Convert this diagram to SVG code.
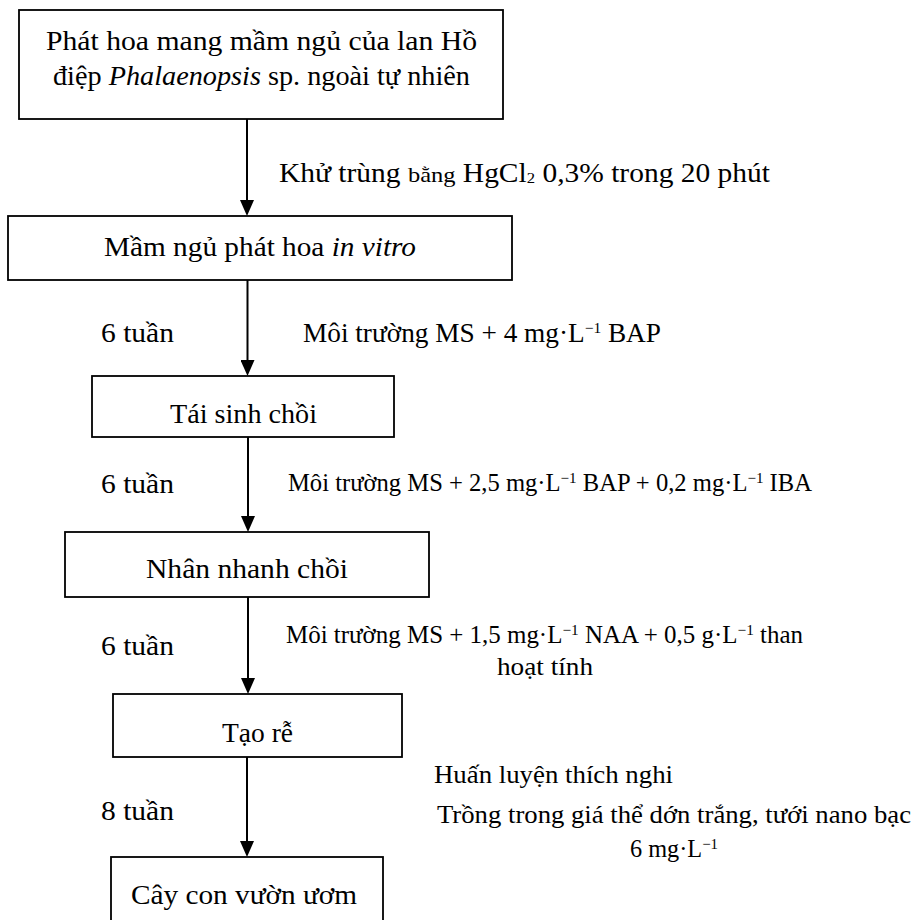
<svg xmlns="http://www.w3.org/2000/svg" width="916" height="920" viewBox="0 0 916 920">
<defs>
<style>
.box{fill:#fff;stroke:#000;stroke-width:1.8}
.t{font-family:"Liberation Serif","Times New Roman",serif;font-size:26.5px;fill:#000}
.s{font-size:24.5px}
.m{font-size:25.5px}
.i{font-style:italic}
.sup{font-size:15px}
.conn line{stroke:#000;stroke-width:2}
</style>
<marker id="ah" markerUnits="userSpaceOnUse" markerWidth="16" markerHeight="14" refX="2" refY="7" orient="auto">
<path d="M0,0 L16,7 L0,14 z" fill="#000"/>
</marker>
</defs>
<rect width="916" height="920" fill="#fff"/>

<g id="connectors" class="conn">
<line x1="247" y1="119" x2="247" y2="202" marker-end="url(#ah)"/>
<line x1="247.5" y1="280" x2="247.5" y2="362" marker-end="url(#ah)"/>
<line x1="248" y1="437" x2="248" y2="518" marker-end="url(#ah)"/>
<line x1="248" y1="597" x2="248" y2="680" marker-end="url(#ah)"/>
<line x1="247" y1="757" x2="247" y2="843" marker-end="url(#ah)"/>
</g>

<g id="node1">
<rect class="box" x="19" y="10" width="484" height="109"/>
<text class="t" x="46" y="50" textLength="431" lengthAdjust="spacingAndGlyphs">Phát hoa mang mầm ngủ của lan Hồ</text>
<text class="t" x="53" y="85" textLength="417" lengthAdjust="spacingAndGlyphs">điệp <tspan class="i">Phalaenopsis</tspan> sp. ngoài tự nhiên</text>
</g>

<g id="node2">
<rect class="box" x="8" y="216" width="504" height="64"/>
<text class="t" x="104" y="256" textLength="312" lengthAdjust="spacingAndGlyphs">Mầm ngủ phát hoa <tspan class="i">in vitro</tspan></text>
</g>

<g id="node3">
<rect class="box" x="92" y="376" width="302" height="61"/>
<text class="t" x="170" y="423" textLength="147" lengthAdjust="spacingAndGlyphs">Tái sinh chồi</text>
</g>

<g id="node4">
<rect class="box" x="65" y="532" width="364" height="65"/>
<text class="t" x="146" y="578" textLength="202" lengthAdjust="spacingAndGlyphs">Nhân nhanh chồi</text>
</g>

<g id="node5">
<rect class="box" x="113" y="694" width="289" height="63"/>
<text class="t" x="222" y="742" textLength="71" lengthAdjust="spacingAndGlyphs">Tạo rễ</text>
</g>

<g id="node6">
<rect class="box" x="111" y="857" width="272" height="90"/>
<text class="t" x="131" y="904" textLength="226" lengthAdjust="spacingAndGlyphs">Cây con vườn ươm</text>
</g>

<g id="labels">
<text class="t" x="279" y="182" textLength="491" lengthAdjust="spacingAndGlyphs">Khử trùng <tspan font-size="22">bằng</tspan> HgCl<tspan class="sup" dy="1">2</tspan><tspan dy="-1"> 0,3% trong 20 phút</tspan></text>

<text class="t" x="101" y="342" textLength="73" lengthAdjust="spacingAndGlyphs">6 tuần</text>
<text class="t" x="303" y="342" textLength="358" lengthAdjust="spacingAndGlyphs">Môi trường MS + 4 mg·L<tspan class="sup" dy="-9">−1</tspan><tspan dy="9"> BAP</tspan></text>

<text class="t" x="101" y="493" textLength="73" lengthAdjust="spacingAndGlyphs">6 tuần</text>
<text class="t s" x="288" y="491" textLength="524" lengthAdjust="spacingAndGlyphs">Môi trường MS + 2,5 mg·L<tspan class="sup" dy="-8">−1</tspan><tspan dy="8"> BAP + 0,2 mg·L</tspan><tspan class="sup" dy="-8">−1</tspan><tspan dy="8"> IBA</tspan></text>

<text class="t" x="101" y="655" textLength="73" lengthAdjust="spacingAndGlyphs">6 tuần</text>
<text class="t s" x="286" y="643" textLength="517" lengthAdjust="spacingAndGlyphs">Môi trường MS + 1,5 mg·L<tspan class="sup" dy="-8">−1</tspan><tspan dy="8"> NAA + 0,5 g·L</tspan><tspan class="sup" dy="-8">−1</tspan><tspan dy="8"> than</tspan></text>
<text class="t s" x="497" y="675" textLength="96" lengthAdjust="spacingAndGlyphs">hoạt tính</text>

<text class="t m" x="434" y="783" textLength="239" lengthAdjust="spacingAndGlyphs">Huấn luyện thích nghi</text>
<text class="t" x="101" y="820" textLength="73" lengthAdjust="spacingAndGlyphs">8 tuần</text>
<text class="t m" x="437" y="823" textLength="474" lengthAdjust="spacingAndGlyphs">Trồng trong giá thể dớn trắng, tưới nano bạc</text>
<text class="t s" x="630" y="857" textLength="88" lengthAdjust="spacingAndGlyphs">6 mg·L<tspan class="sup" dy="-8">−1</tspan></text>
</g>
</svg>
